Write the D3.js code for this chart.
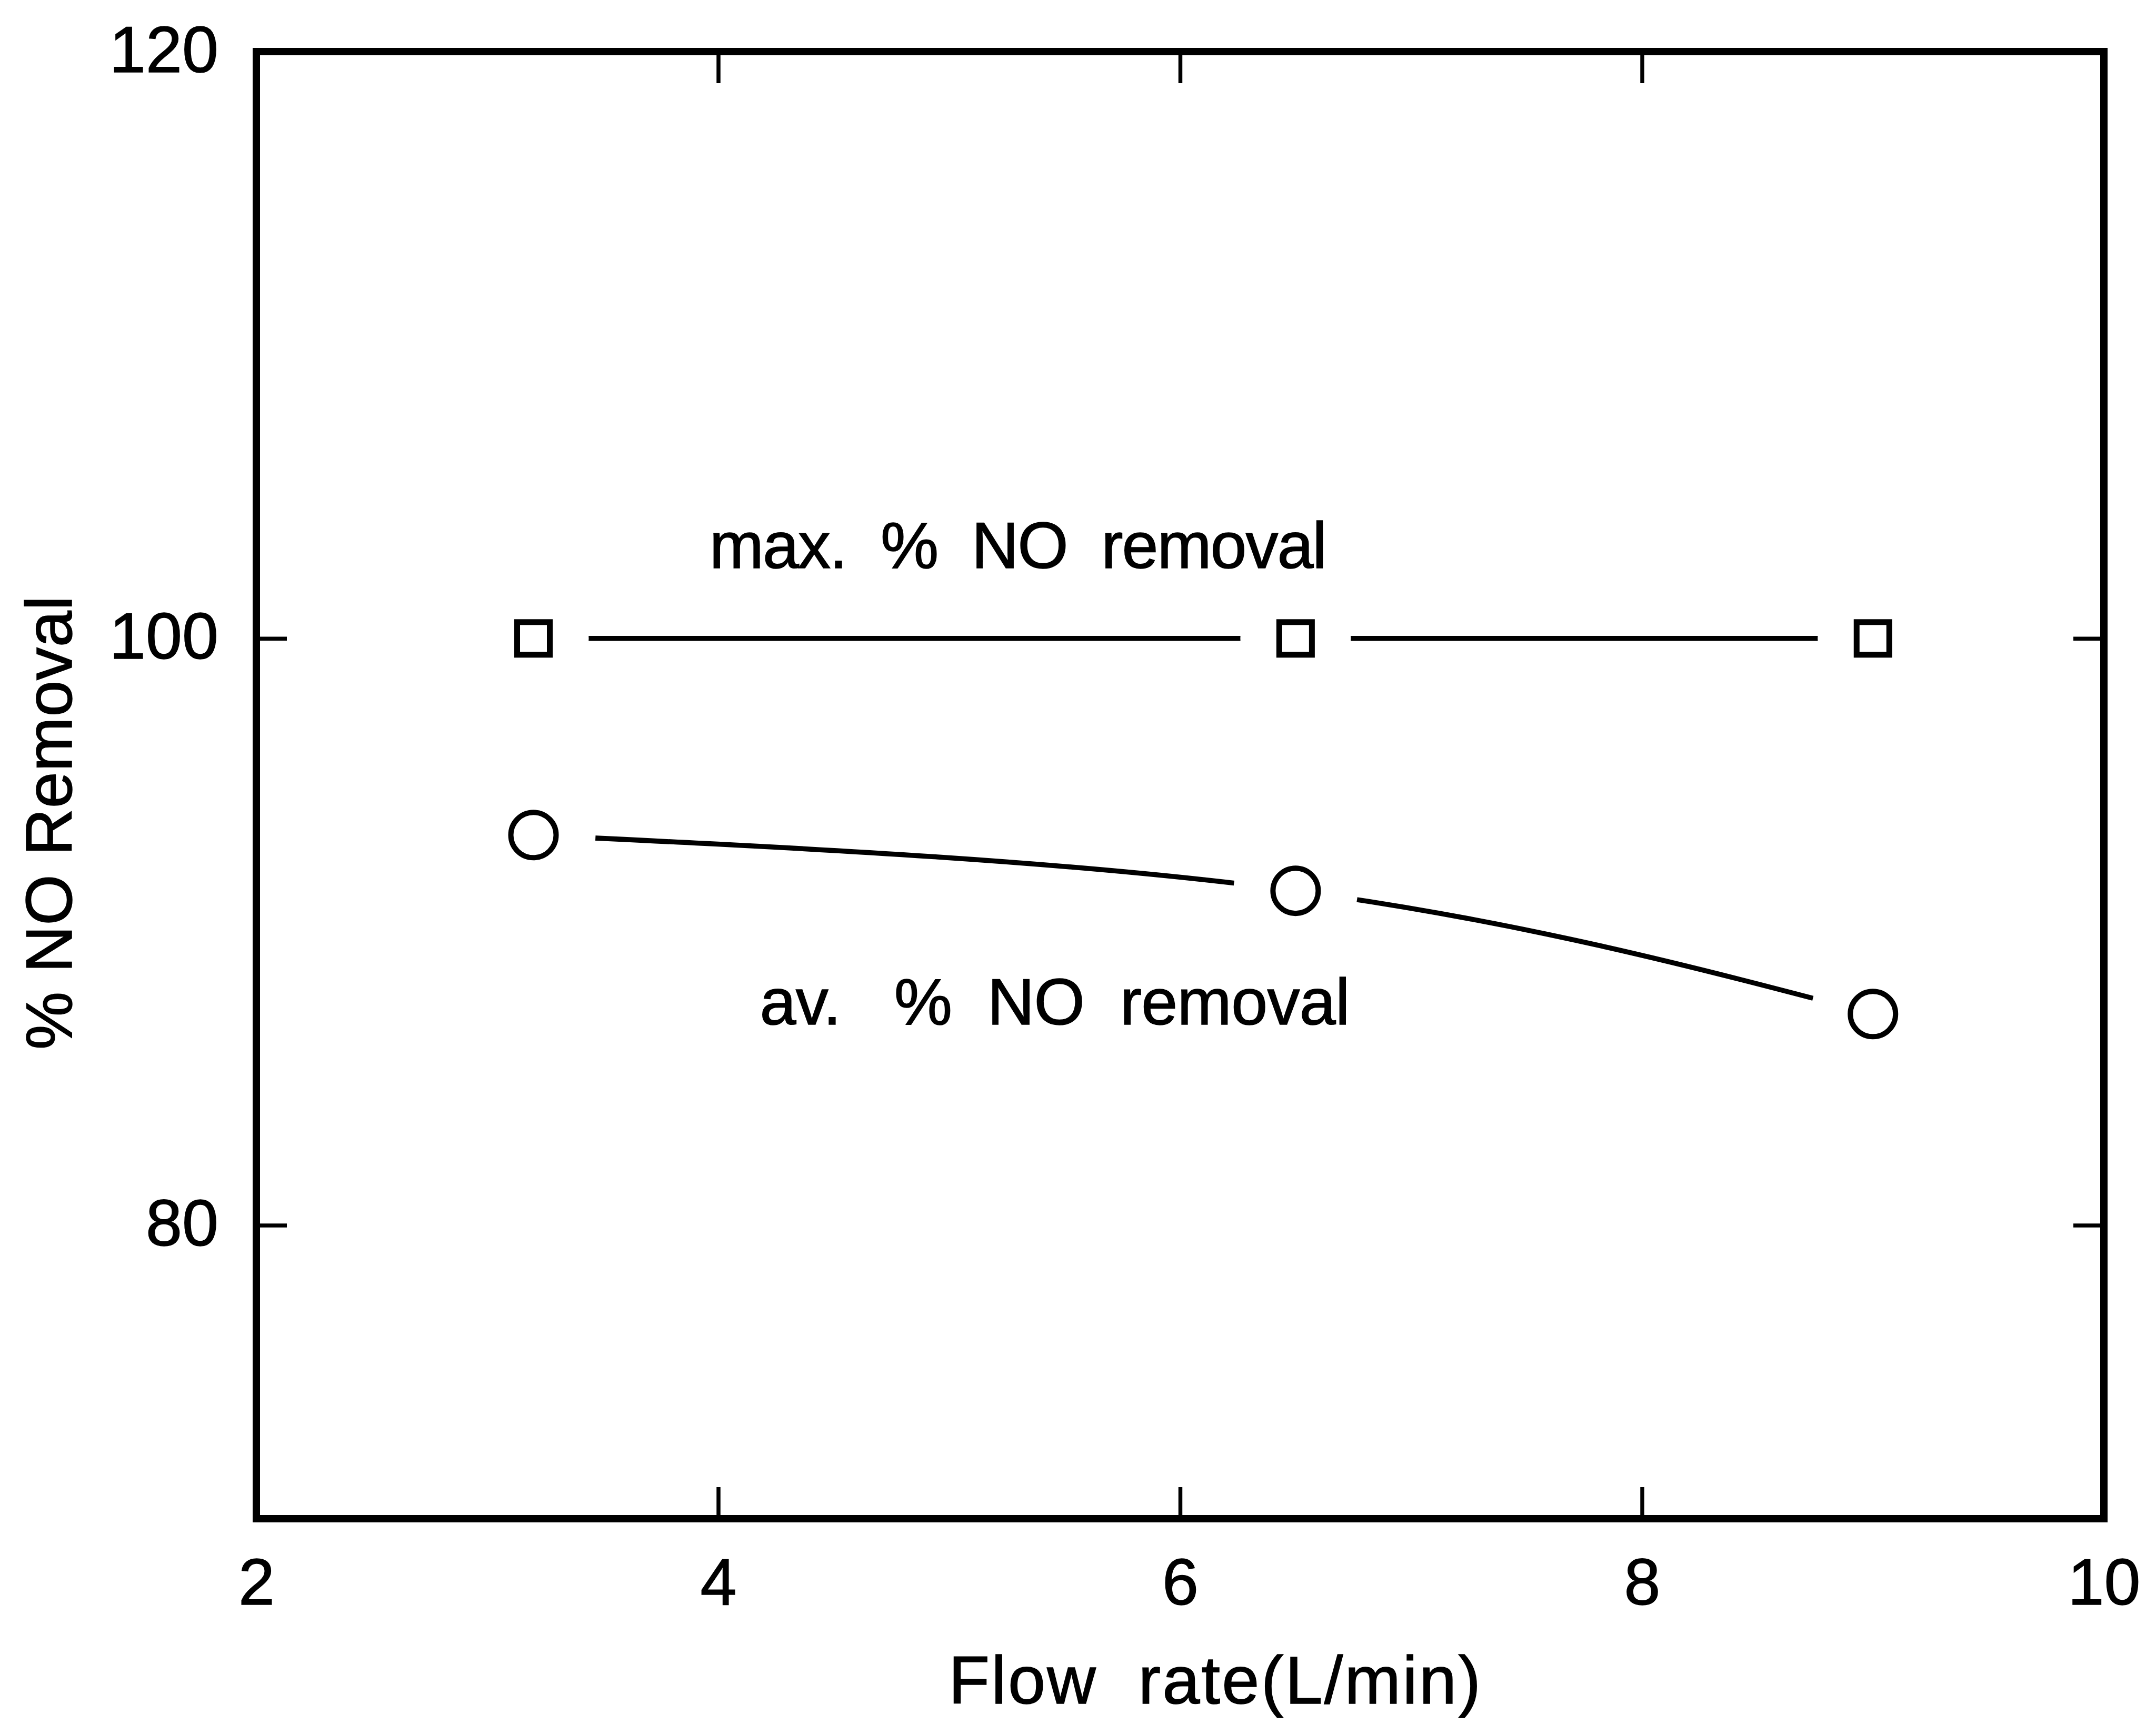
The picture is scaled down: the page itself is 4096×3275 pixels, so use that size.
<!DOCTYPE html>
<html>
<head>
<meta charset="utf-8">
<script src="https://cdn.jsdelivr.net/npm/d3@7"></script>
<style>
  html, body { margin: 0; padding: 0; background: #fff; }
  svg { display: block; }
</style>
</head>
<body>
<script>
// ---------------- data ----------------
const flowRate   = [3.2, 6.5, 9.0];          // L/min
const maxRemoval = [100, 100, 100];          // max. % NO removal (squares)
const avRemoval  = [93.3, 91.4, 87.2];       // av. % NO removal (circles)
const xTickValues = [2, 4, 6, 8, 10];
const yTickValues = [80, 100, 120];
const xDomain = [2, 10];
const yDomain = [70, 120];
const xTitle = "Flow  rate(L/min)";
const yTitle = "% NO Removal";
const maxLabel = "max.  %  NO  removal";
const avLabel  = "av.   %  NO  removal";

// ---------------- layout ----------------
const W = 4096, H = 3275;
const plot = { left: 487, right: 3997, top: 98, bottom: 2885 };
const FONT = "'Liberation Sans', Arial, Helvetica, sans-serif";
const fontSize = 124;

const svg = d3.select("body").append("svg")
  .attr("width", W).attr("height", H)
  .attr("viewBox", `0 0 ${W} ${H}`);
svg.append("rect").attr("width", W).attr("height", H).attr("fill", "#fff");

const x = d3.scaleLinear().domain(xDomain).range([plot.left, plot.right]);
const y = d3.scaleLinear().domain(yDomain).range([plot.bottom, plot.top]);

// ---------------- axes ----------------
function styleAxis(g, showText) {
  g.select(".domain").remove();
  g.selectAll(".tick line").attr("stroke", "#000").attr("stroke-width", 7.5);
  g.selectAll(".tick text")
    .attr("fill", "#000")
    .attr("stroke", "#000").attr("stroke-width", 1.5)
    .attr("font-family", FONT)
    .attr("font-size", fontSize)
    .style("display", showText ? null : "none");
}

// bottom
const gB = svg.append("g")
  .attr("transform", `translate(0,${plot.bottom})`)
  .call(d3.axisBottom(x).tickValues(xTickValues).tickSize(-60).tickFormat(d3.format("d")));
styleAxis(gB, true);
gB.selectAll(".tick text").attr("y", 163).attr("dy", 0);

// top
const gT = svg.append("g")
  .attr("transform", `translate(0,${plot.top})`)
  .call(d3.axisTop(x).tickValues(xTickValues).tickSize(-60));
styleAxis(gT, false);

// left
const gL = svg.append("g")
  .attr("transform", `translate(${plot.left},0)`)
  .call(d3.axisLeft(y).tickValues(yTickValues).tickSize(-58).tickPadding(72).tickFormat(d3.format("d")));
styleAxis(gL, true);
gL.selectAll(".tick text").attr("dy", 38);

// right
const gR = svg.append("g")
  .attr("transform", `translate(${plot.right},0)`)
  .call(d3.axisRight(y).tickValues(yTickValues).tickSize(-58));
styleAxis(gR, false);

// frame
svg.append("rect")
  .attr("x", plot.left).attr("y", plot.top)
  .attr("width", plot.right - plot.left).attr("height", plot.bottom - plot.top)
  .attr("fill", "none").attr("stroke", "#000").attr("stroke-width", 14);

// ---------------- data lines (with gaps at markers) ----------------
const defs = svg.append("defs");
function makeMask(id, xs, ys, r) {
  const m = defs.append("mask").attr("id", id).attr("maskUnits", "userSpaceOnUse")
    .attr("x", 0).attr("y", 0).attr("width", W).attr("height", H);
  m.append("rect").attr("width", W).attr("height", H).attr("fill", "#fff");
  m.selectAll("circle").data(xs).join("circle")
    .attr("cx", d => x(d)).attr("cy", (d, i) => y(ys[i])).attr("r", r).attr("fill", "#000");
}
makeMask("maskMax", flowRate, maxRemoval, 105);
makeMask("maskAv", flowRate, avRemoval, 118);

const lineGen = d3.line()
  .x(d => x(d[0])).y(d => y(d[1]))
  .curve(d3.curveNatural);

svg.append("path")
  .datum(flowRate.map((f, i) => [f, maxRemoval[i]]))
  .attr("d", lineGen)
  .attr("fill", "none").attr("stroke", "#000").attr("stroke-width", 9.5)
  .attr("stroke-linecap", "round")
  .attr("mask", "url(#maskMax)");

svg.append("path")
  .datum(flowRate.map((f, i) => [f, avRemoval[i]]))
  .attr("d", lineGen)
  .attr("fill", "none").attr("stroke", "#000").attr("stroke-width", 9.5)
  .attr("stroke-linecap", "round")
  .attr("mask", "url(#maskAv)");

// ---------------- markers ----------------
const sq = 62;
svg.append("g").selectAll("rect")
  .data(flowRate.map((f, i) => [f, maxRemoval[i]]))
  .join("rect")
  .attr("x", d => x(d[0]) - sq / 2).attr("y", d => y(d[1]) - sq / 2)
  .attr("width", sq).attr("height", sq)
  .attr("fill", "#fff").attr("stroke", "#000").attr("stroke-width", 11);

svg.append("g").selectAll("circle")
  .data(flowRate.map((f, i) => [f, avRemoval[i]]))
  .join("circle")
  .attr("cx", d => x(d[0])).attr("cy", d => y(d[1])).attr("r", 43)
  .attr("fill", "#fff").attr("stroke", "#000").attr("stroke-width", 10);

// ---------------- annotations ----------------
function addText(sel) {
  return sel.attr("font-family", FONT).attr("fill", "#000")
    .attr("stroke", "#000").attr("stroke-width", 1.5)
    .style("white-space", "pre");
}

addText(svg.append("text"))
  .attr("x", x(3.962)).attr("y", y(102.4))
  .attr("font-size", fontSize)
  .attr("textLength", 1173).attr("lengthAdjust", "spacing")
  .text(maxLabel);

addText(svg.append("text"))
  .attr("x", x(4.18)).attr("y", y(86.85))
  .attr("font-size", fontSize)
  .attr("textLength", 1121).attr("lengthAdjust", "spacing")
  .text(avLabel);

// axis titles
addText(svg.append("text"))
  .attr("x", 1802).attr("y", 3236)
  .attr("font-size", 128)
  .attr("textLength", 1011).attr("lengthAdjust", "spacing")
  .text(xTitle);

addText(svg.append("text"))
  .attr("transform", `translate(136,1563) rotate(-90)`)
  .attr("text-anchor", "middle")
  .attr("font-size", fontSize)
  .attr("textLength", 862).attr("lengthAdjust", "spacing")
  .text(yTitle);
</script>
</body>
</html>
